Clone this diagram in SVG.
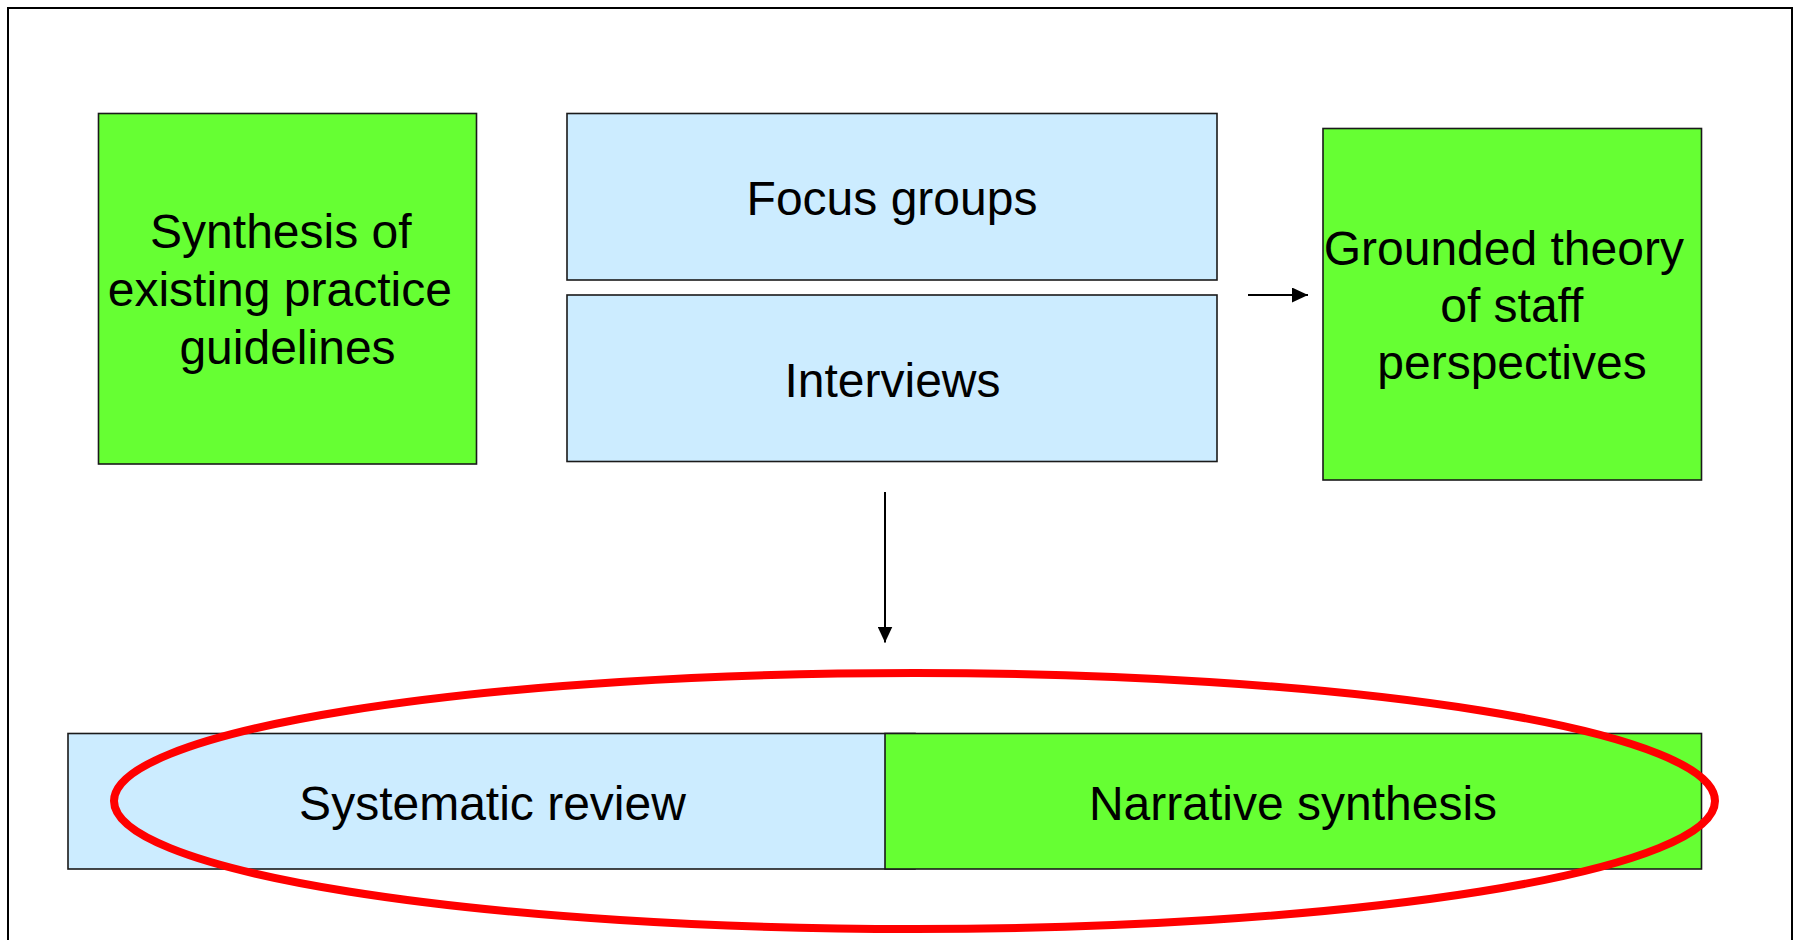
<svg xmlns="http://www.w3.org/2000/svg" width="1801" height="940" viewBox="0 0 1801 940">
  <style>
    .box { stroke: #1a1a1a; stroke-width: 1.6; }
    .green { fill: #66FF33; }
    .blue { fill: #CCECFF; }
    .label { font-family: "Liberation Sans", Arial, sans-serif; font-size: 48px; fill: #000; }
    .conn { stroke: #000; stroke-width: 2; fill: none; }
  </style>
  <defs>
    <marker id="arrowhead" markerUnits="userSpaceOnUse" markerWidth="16" markerHeight="15" refX="16" refY="7.5" orient="auto">
      <path d="M0,0 L16,7.5 L0,15 Z" fill="#000"/>
    </marker>
  </defs>

  <rect width="1801" height="940" fill="#fff"/>
  <!-- outer frame, open at the bottom edge of the page -->
  <rect x="8" y="8" width="1784" height="980" fill="none" stroke="#000" stroke-width="2"/>

  <g id="node-synthesis-guidelines">
    <rect class="box green" x="98.5" y="113.5" width="378" height="350.5"/>
    <text class="label" text-anchor="middle">
      <tspan x="287.5" y="248">Synthesis of</tspan>
      <tspan x="286.5" y="306">existing practice</tspan>
      <tspan x="287.5" y="364">guidelines</tspan>
    </text>
  </g>

  <g id="node-focus-groups">
    <rect class="box blue" x="567" y="113.5" width="650" height="166.5"/>
    <text class="label" text-anchor="middle" x="892" y="215">Focus groups</text>
  </g>

  <g id="node-interviews">
    <rect class="box blue" x="567" y="295" width="650" height="166.5"/>
    <text class="label" text-anchor="middle" x="892.5" y="397">Interviews</text>
  </g>

  <g id="node-grounded-theory">
    <rect class="box green" x="1323" y="128.5" width="378.5" height="351.5"/>
    <text class="label" text-anchor="middle">
      <tspan x="1510.5" y="265">Grounded theory</tspan>
      <tspan x="1518.5" y="322">of staff</tspan>
      <tspan x="1512" y="379">perspectives</tspan>
    </text>
  </g>

  <g id="node-systematic-review">
    <rect class="box blue" x="68" y="733.5" width="847" height="135.5"/>
    <text class="label" text-anchor="middle" x="492.5" y="820">Systematic review</text>
  </g>

  <g id="node-narrative-synthesis">
    <rect class="box green" x="885" y="733.5" width="816.5" height="135.5"/>
    <text class="label" text-anchor="middle" x="1293" y="820">Narrative synthesis</text>
  </g>

  <g id="connectors">
    <line class="conn" x1="1248" y1="295" x2="1308" y2="295" marker-end="url(#arrowhead)"/>
    <line class="conn" x1="885" y1="492" x2="885" y2="642.5" marker-end="url(#arrowhead)"/>
  </g>

  <!-- highlight ring round the bottom pair -->
  <ellipse id="highlight" cx="914.5" cy="801" rx="800.5" ry="128" fill="none" stroke="#FF0000" stroke-width="8"/>
</svg>
